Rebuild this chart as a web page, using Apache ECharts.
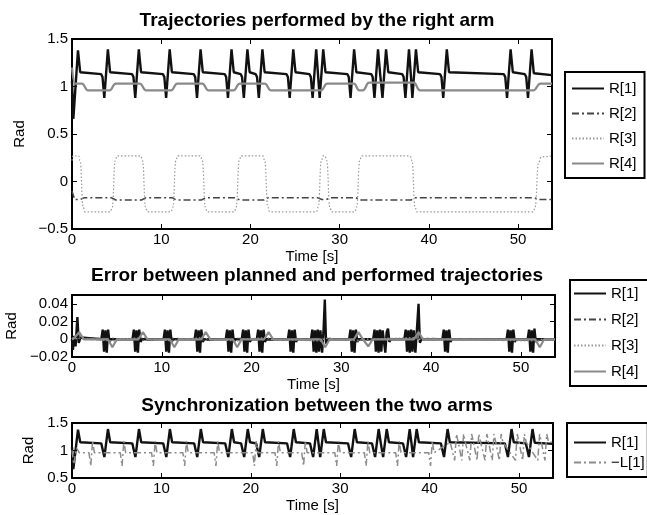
<!DOCTYPE html>
<html><head><meta charset="utf-8">
<script src="https://cdn.jsdelivr.net/npm/echarts@6/dist/echarts.min.js"></script>
<style>html,body{margin:0;padding:0;background:#fff}#c{width:647px;height:515px}</style>
</head><body><div id="c"></div><script>
// ---------- data ----------
const tMax = 53.8;
const titles = ['Trajectories performed by the right arm','Error between planned and performed trajectories','Synchronization between the two arms'];
const legend1 = ['R[1]','R[2]','R[3]','R[4]'];
const legend3 = ['R[1]','\u2212L[1]'];

// R[1] trajectory (also used in the synchronization plot)
const r1 = [[0,1.06],[0.15,0.66],[0.67,1.38],[0.92,1.15],[1.1,1.13],
[3.27,1.13],[3.42,1.10],[3.62,0.88],[4.02,1.39],[4.27,1.15],[4.42,1.13],
[6.74,1.13],[6.89,1.10],[7.09,0.88],[7.49,1.39],[7.74,1.15],[7.89,1.13],
[10.2,1.13],[10.35,1.10],[10.55,0.88],[10.95,1.39],[11.2,1.15],[11.35,1.13],
[13.66,1.13],[13.81,1.10],[14.01,0.88],[14.41,1.39],[14.66,1.15],[14.81,1.13],
[17.13,1.13],[17.28,1.10],[17.48,0.88],[17.88,1.39],[18.13,1.15],[18.28,1.13],
[18.91,1.13],[19.06,1.10],[19.26,0.88],[19.66,1.39],[19.91,1.15],[20.06,1.13],
[20.59,1.13],[20.74,1.10],[20.94,0.88],[21.34,1.39],[21.59,1.15],[21.74,1.13],
[24.05,1.13],[24.2,1.10],[24.4,0.88],[24.8,1.39],[25.05,1.15],[25.2,1.13],
[26.62,1.13],[26.77,1.10],[26.97,0.88],[27.37,1.39],[27.58,1.12],[27.76,0.88],[28.16,1.39],[28.41,1.15],[28.56,1.13],
[30.87,1.13],[31.02,1.10],[31.22,0.88],[31.62,1.39],[31.87,1.15],[32.02,1.13],
[33.55,1.13],[33.7,1.10],[33.9,0.88],[34.3,1.39],[34.55,1.12],[34.8,0.88],[35.2,1.39],[35.45,1.15],[35.6,1.13],
[37.02,1.13],[37.17,1.10],[37.37,0.88],[37.77,1.39],[37.98,1.12],[38.15,0.88],[38.55,1.39],[38.8,1.15],[38.95,1.13],
[41.26,1.13],[41.41,1.10],[41.61,0.88],[42.01,1.39],[42.26,1.15],[42.41,1.13],
[48.41,1.13],[48.56,1.10],[48.76,0.88],[49.16,1.39],[49.41,1.15],[49.56,1.13],
[50.76,1.13],[50.91,1.10],[51.11,0.88],[51.51,1.39],[51.76,1.14],[51.91,1.12],[53.8,1.12]];

const r2 = [[0,-0.1],[0.3,-0.19],[0.9,-0.19],[1.4,-0.17],[4.4,-0.17],[4.9,-0.195],[7.8,-0.195],[8.3,-0.17],
[11.2,-0.17],[11.7,-0.195],[14.5,-0.195],[15.0,-0.17],[18.3,-0.17],[18.8,-0.195],[21.5,-0.195],[22.0,-0.17],
[27.5,-0.17],[28.0,-0.19],[28.5,-0.19],[29.0,-0.17],[31.8,-0.17],[32.3,-0.195],[38.0,-0.195],[38.5,-0.17],
[51.8,-0.17],[52.3,-0.19],[53.8,-0.19]];

const r3 = [[0,0.22],[0.12,0.27],[0.75,0.27],[0.9,0.22],[1.25,-0.27],[1.45,-0.32],[4.3,-0.32],[4.5,-0.27],
[4.85,0.22],[5.05,0.27],[7.7,0.27],[7.9,0.22],[8.25,-0.27],[8.45,-0.32],[11.1,-0.32],[11.3,-0.27],
[11.65,0.22],[11.85,0.27],[14.4,0.27],[14.6,0.22],[14.95,-0.27],[15.15,-0.32],[18.2,-0.32],[18.4,-0.27],
[18.75,0.22],[18.95,0.27],[21.4,0.27],[21.6,0.22],[21.95,-0.27],[22.15,-0.32],[27.4,-0.32],[27.6,-0.27],
[27.95,0.22],[28.15,0.27],[28.35,0.27],[28.55,0.22],[28.9,-0.27],[29.1,-0.32],[31.7,-0.32],[31.9,-0.27],
[32.25,0.22],[32.45,0.27],[37.9,0.27],[38.1,0.22],[38.45,-0.27],[38.65,-0.32],[51.7,-0.32],[51.9,-0.27],
[52.3,0.2],[52.6,0.26],[53.8,0.27]];

const r4 = [[0,1.2],[0.35,1.03],[1.1,1.03],[1.8,0.96],[4.2,0.96],[4.9,1.03],[7.6,1.03],[8.3,0.96],
[11.1,0.96],[11.8,1.03],[14.6,1.03],[15.3,0.96],[18.1,0.96],[18.8,1.03],[21.6,1.03],[22.3,0.96],
[27.9,0.96],[28.6,1.03],[31.6,1.03],[32.2,0.96],[32.6,0.96],[33.3,1.04],[38.3,1.04],[39.0,0.96],
[51.7,0.96],[52.5,1.03],[53.8,1.03]];

// tracking errors
const e1 = [[0,0],[0.1,-0.012],[0.25,0.004],[0.4,-0.008],[0.6,0.025],[0.75,-0.004],[0.95,0.002],[1.1,0],
[3.27,0],[3.42,0.011],[3.57,-0.014],[3.72,0.010],[3.87,-0.015],[4.02,0.011],[4.17,-0.003],[4.32,0],
[6.74,0],[6.89,0.011],[7.04,-0.014],[7.19,0.010],[7.34,-0.015],[7.49,0.011],[7.64,-0.003],[7.79,0],
[10.2,0],[10.35,0.011],[10.5,-0.014],[10.65,0.010],[10.8,-0.015],[10.95,0.011],[11.1,-0.003],[11.25,0],
[13.66,0],[13.81,0.011],[13.96,-0.014],[14.11,0.010],[14.26,-0.015],[14.41,0.011],[14.56,-0.003],[14.71,0],
[17.13,0],[17.28,0.011],[17.43,-0.014],[17.58,0.010],[17.73,-0.015],[17.88,0.011],[18.03,-0.003],[18.18,0],
[18.91,0],[19.06,0.011],[19.21,-0.014],[19.36,0.010],[19.51,-0.015],[19.66,0.011],[19.81,-0.003],[19.96,0],
[20.59,0],[20.74,0.011],[20.89,-0.014],[21.04,0.010],[21.19,-0.015],[21.34,0.011],[21.49,-0.003],[21.64,0],
[24.05,0],[24.2,0.011],[24.35,-0.014],[24.5,0.010],[24.65,-0.015],[24.8,0.011],[24.95,-0.003],[25.1,0],
[26.62,0],[26.77,0.011],[26.92,-0.014],[27.07,0.010],[27.22,-0.015],[27.37,0.011],[27.52,-0.014],[27.67,0.010],[27.86,-0.015],[28.01,0.008],[28.16,0.045],[28.3,-0.005],[28.46,0],
[30.87,0],[31.02,0.011],[31.17,-0.014],[31.32,0.010],[31.47,-0.015],[31.62,0.011],[31.77,-0.003],[31.92,0],
[33.55,0],[33.7,0.011],[33.85,-0.014],[34.0,0.010],[34.15,-0.015],[34.3,0.011],[34.45,-0.014],[34.6,0.010],[34.9,-0.015],[35.05,0.008],[35.2,0.012],[35.35,-0.003],[35.5,0],
[37.02,0],[37.17,0.011],[37.32,-0.014],[37.47,0.010],[37.62,-0.015],[37.77,0.011],[37.92,-0.014],[38.07,0.010],[38.25,-0.015],[38.4,0.008],[38.6,0.04],[38.75,-0.004],[38.9,0],
[41.26,0],[41.41,0.011],[41.56,-0.014],[41.71,0.010],[41.86,-0.015],[42.01,0.011],[42.16,-0.003],[42.31,0],
[48.41,0],[48.56,0.011],[48.71,-0.014],[48.86,0.010],[49.01,-0.015],[49.16,0.011],[49.31,-0.003],[49.46,0],
[50.76,0],[50.91,0.011],[51.06,-0.014],[51.21,0.010],[51.36,-0.015],[51.51,0.012],[51.66,-0.003],[51.81,0],[53.8,0]];
const e2 = [[0,0.001],[1.3,0.001],[1.5,-0.001],[4.5,0.001],[8.3,-0.001],[11.5,0.001],[15,-0.001],[18.5,0.001],[22,-0.001],[28,0.001],[32,-0.001],[38.5,0.001],[52,-0.001],[53.8,0]];
const e3 = [[0,0],[1.3,0.002],[1.6,0],[4.6,-0.002],[4.9,0],[8.1,0.002],[8.4,0],[11.4,-0.002],[11.7,0],[14.8,0.002],[15.1,0],[18.5,-0.002],[18.8,0],[21.8,0.002],[22.1,0],[27.7,-0.002],[28,0],[28.7,0.002],[29,0],[32,-0.002],[32.3,0],[38.3,0.002],[38.6,0],[52,-0.002],[52.3,0],[53.8,0]];
const e4 = [[0,0],[0.3,0.002],[0.8,0.008],[1.3,0],[4.0,0],[4.5,-0.009],[5.0,0],[7.4,0],[7.9,0.008],[8.4,0],
[10.9,0],[11.4,-0.009],[11.9,0],[14.4,0],[14.9,0.008],[15.4,0],[17.9,0],[18.4,-0.009],[18.9,0],
[21.4,0],[21.9,0.008],[22.4,0],[27.7,0],[28.2,-0.009],[28.7,0],[31.4,0],[31.9,0.008],[32.4,0],
[32.5,0],[33.0,-0.008],[33.5,0],[38.1,0],[38.6,0.008],[39.1,0],[51.6,0],[52.1,-0.009],[52.6,0],[53.8,0]];

// -L[1] (left arm, sign inverted)
const l1 = [[0,1.0],[0.2,0.75],[0.5,1.05],[0.8,0.96],
[1.9,0.96],[2.1,0.72],[2.3,1.17],[2.5,0.96],[5.4,0.96],[5.6,0.72],[5.8,1.17],[6.0,0.96],
[8.9,0.96],[9.1,0.72],[9.3,1.17],[9.5,0.96],[12.4,0.96],[12.6,0.72],[12.8,1.17],[13.0,0.96],
[15.9,0.96],[16.1,0.72],[16.3,1.17],[16.5,0.96],[20.2,0.96],[20.4,0.72],[20.6,1.17],[20.8,0.96],
[22.7,0.96],[22.9,0.72],[23.1,1.17],[23.3,0.96],[25.7,0.96],[25.9,0.72],[26.1,1.17],[26.3,0.96],
[29.4,0.96],[29.6,0.72],[29.8,1.17],[30.0,0.96],[32.7,0.96],[32.9,0.72],[33.1,1.17],[33.3,0.96],
[36.2,0.96],[36.4,0.72],[36.6,1.17],[36.8,0.96],[39.9,0.96],[40.1,0.72],[40.3,1.17],[40.5,0.96],
[42.3,1.15],[42.8,0.82],[43.0,1.3],[43.2,1.15],[43.6,0.82],[43.8,1.3],[44.0,1.15],[44.5,0.82],[44.7,1.3],[44.9,1.15],
[45.3,0.82],[45.5,1.3],[45.7,1.15],[46.2,0.82],[46.4,1.3],[46.6,1.15],[47.0,0.82],[47.2,1.3],[47.4,1.15],
[47.8,0.82],[48.0,1.3],[48.2,1.15],[49.6,0.82],[49.8,1.3],[50.0,1.15],[50.4,0.82],[50.6,1.3],[50.8,1.15],
[52.1,0.82],[52.3,1.3],[52.5,1.15],[52.9,0.82],[53.1,1.3],[53.3,1.15],[53.8,1.15]];

// ---------- chart ----------
const FONT = '"Liberation Sans", Arial, Helvetica, sans-serif';
const grids = [
  {left:72, top:39, width:480, height:190, outerBoundsMode:'none'},
  {left:72, top:295, width:483, height:62, outerBoundsMode:'none'},
  {left:72, top:423, width:481, height:55, outerBoundsMode:'none'}
];
const yRanges = [{min:-0.5,max:1.5,interval:0.5},{min:-0.02,max:0.05,interval:0.02},{min:0.5,max:1.5,interval:0.5}];
const yNameGaps = [38, 48, 25];
const fmt = v => String(+v.toFixed(4)).replace('-', '\u2212');
const lineAx = {onZero:false, lineStyle:{color:'#000', width:2}};
const tickAx = {inside:true, length:5, lineStyle:{color:'#000', width:1}};
const lab = {color:'#000', fontSize:15, fontFamily:FONT};

const xAxis = [], yAxis = [];
grids.forEach((g, i) => {
  xAxis.push({gridIndex:i, type:'value', min:0, max:tMax, interval:10, position:'bottom',
    axisLine:lineAx, axisTick:tickAx, splitLine:{show:false},
    axisLabel:Object.assign({margin:3, showMaxLabel:false, formatter:fmt}, lab),
    name:'Time [s]', nameLocation:'middle', nameGap:20, nameTextStyle:lab});
  xAxis.push({gridIndex:i, type:'value', min:0, max:tMax, interval:10, position:'top',
    axisLine:lineAx, axisTick:tickAx, splitLine:{show:false}, axisLabel:{show:false}});
  const yr = yRanges[i];
  yAxis.push(Object.assign({gridIndex:i, type:'value', position:'left',
    axisLine:lineAx, axisTick:tickAx, splitLine:{show:false},
    axisLabel:Object.assign({margin:4, formatter:fmt, showMaxLabel: i !== 1}, lab),
    name:'Rad', nameLocation:'middle', nameGap:yNameGaps[i], nameRotate:90, nameTextStyle:lab}, yr));
  yAxis.push(Object.assign({gridIndex:i, type:'value', position:'right',
    axisLine:lineAx, axisTick:tickAx, splitLine:{show:false}, axisLabel:{show:false}}, yr));
});

const styles = {
  'R[1]': {color:'#111', width:2.4, type:'solid', smooth:false},
  'R[2]': {color:'#444', width:1.5, type:[7,3,2,3], smooth:false},
  'R[3]': {color:'#999', width:1.2, type:[1.5,2], smooth:true},
  'R[4]': {color:'#8a8a8a', width:2.2, type:'solid', smooth:true},
  '\u2212L[1]': {color:'#8c8c8c', width:1.5, type:[7,3,2,3], smooth:false}
};
function mk(name, data, gi, smooth){
  const s = styles[name];
  return {name, type:'line', data, xAxisIndex:gi*2, yAxisIndex:gi*2, showSymbol:false, symbol:'none',
    smooth: smooth === undefined ? s.smooth : smooth, smoothMonotone:'x',
    lineStyle:{color:s.color, width:s.width, type:s.type}, itemStyle:{color:s.color}, animation:false, silent:true};
}
const series = [
  mk('R[1]', r1, 0), mk('R[2]', r2, 0), mk('R[3]', r3, 0), mk('R[4]', r4, 0),
  mk('R[1]', e1, 1), mk('R[2]', e2, 1, false), mk('R[3]', e3, 1, false), mk('R[4]', e4, 1, false),
  mk('R[1]', r1, 2), mk('\u2212L[1]', l1, 2)
];
const legBase = {orient:'vertical', itemWidth:32, itemHeight:14, borderColor:'#000', borderWidth:2,
  itemStyle:{opacity:0}, textStyle:{color:'#000', fontSize:15, fontFamily:FONT}, selectedMode:false, backgroundColor:'#fff'};
const legend = [
  Object.assign({left:565, top:72, data:legend1, itemGap:10, padding:[9,8,7,6]}, legBase),
  Object.assign({left:570, top:280, data:legend1, itemGap:11, padding:[6,12,7,3]}, legBase),
  Object.assign({left:567, top:423, data:legend3, itemGap:5, padding:[12,3,7,6]}, legBase)
];
const titleTops = [6, 261, 391];
const title = titles.map((t, i) => ({text:t, left:312, top:titleTops[i], textAlign:'center',
  textStyle:{fontSize:19, fontWeight:'bold', color:'#000', fontFamily:FONT}}));

const chart = echarts.init(document.getElementById('c'), null, {renderer:'canvas'});
chart.setOption({animation:false, backgroundColor:'#fff', title, legend, grid:grids, xAxis, yAxis, series});
</script></body></html>
